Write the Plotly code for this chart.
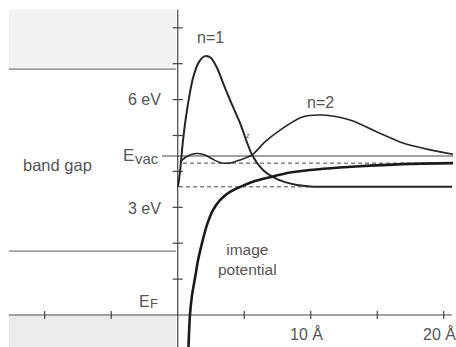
import plotly.graph_objects as go

# ---- data (x in Å, energy in eV) ----
n1_x = [0.02, 0.17, 0.40, 0.70, 1.15, 1.60, 2.05, 2.50, 2.96, 3.41, 3.93, 4.68, 5.59, 6.41, 7.17, 8.07, 8.97, 9.95, 12.20, 20.62]
n1_y = [3.57, 3.98, 4.87, 5.71, 6.60, 7.05, 7.21, 7.16, 6.88, 6.46, 5.99, 5.35, 4.46, 4.04, 3.84, 3.70, 3.62, 3.58, 3.57, 3.57]

n2_x = [0.17, 0.62, 1.08, 1.53, 2.05, 2.58, 3.18, 3.93, 4.68, 5.59, 6.56, 7.69, 9.42, 10.85, 12.95, 14.98, 16.94, 18.97, 20.70]
n2_y = [4.26, 4.40, 4.48, 4.50, 4.46, 4.35, 4.25, 4.23, 4.32, 4.46, 4.82, 5.15, 5.52, 5.57, 5.43, 5.10, 4.79, 4.60, 4.48]

pot_x = [0.81, 0.92, 1.08, 1.30, 1.53, 1.83, 2.20, 2.65, 3.18, 3.93, 4.83, 5.81, 6.94, 8.44, 9.95, 12.20, 14.46, 17.47, 20.70]
pot_y = [-0.89, 0.00, 0.56, 1.03, 1.53, 2.01, 2.51, 2.92, 3.20, 3.43, 3.59, 3.73, 3.84, 3.97, 4.04, 4.11, 4.16, 4.21, 4.23]

E_vac = 4.43
E_n1 = 3.57
E_n2 = 4.23
cb_bottom = 6.85
vb_top = 1.78
cb_top = 8.50
x_left = -12.7
x_right = 20.6
y_axis_top = 8.50
y_axis_bottom = -0.89

x_ticks = [-10, -5, 5, 10, 15, 20]
y_ticks = [1, 2, 3, 4, 5, 6, 7, 8]

# ---- figure ----
LINE = "#262626"
TXT = "#555555"
FONT = "Liberation Sans, Arial, sans-serif"

fig = go.Figure()

def seg(xs, ys, color=LINE, width=1.2, dash="solid", shape="linear"):
    fig.add_trace(go.Scatter(x=xs, y=ys, mode="lines",
                             line=dict(color=color, width=width, dash=dash,
                                       shape=shape, smoothing=0.8 if shape == "spline" else None),
                             hoverinfo="skip", showlegend=False))

# shaded bands
fig.add_shape(type="rect", x0=x_left, x1=-0.13, y0=cb_bottom, y1=cb_top,
              fillcolor="#f2f2f2", line=dict(width=0), layer="below")
fig.add_shape(type="rect", x0=x_left, x1=-0.13, y0=y_axis_bottom, y1=-0.03,
              fillcolor="#ebebeb", line=dict(width=0), layer="below")

# band edges
seg([x_left, -0.13], [cb_bottom, cb_bottom], color="#7a7a7a", width=1.4)
seg([x_left, -0.13], [vb_top, vb_top], color="#7a7a7a", width=1.2)

# axes
seg([0, 0], [y_axis_bottom, y_axis_top], color="#444444", width=1.2)
seg([x_left, x_right], [0, 0], color="#444444", width=1.2)
for t in y_ticks:
    seg([-0.38, 0.38], [t, t], color="#444444", width=1.2)
for t in x_ticks:
    seg([t, t], [-0.11, 0.11], color="#444444", width=1.2)

# levels
seg([-1.18, 20.7], [E_vac, E_vac], color="#444444", width=1.1)
seg([0.4, 20.6], [E_n2, E_n2], color="#444444", width=1.0, dash="4px,3px")
seg([0.1, 10.0], [E_n1, E_n1], color="#444444", width=1.0, dash="4px,3px")

# wavefunctions and image potential
seg(n2_x, n2_y, width=1.6, shape="spline")
seg(n1_x, n1_y, width=2.0, shape="spline")
seg(pot_x, pot_y, width=2.6, color="#1a1a1a", shape="spline")

def label(x, y, text, size=16, xanchor="center", yanchor="middle"):
    fig.add_annotation(x=x, y=y, text=text, showarrow=False,
                       xanchor=xanchor, yanchor=yanchor,
                       font=dict(family=FONT, size=size, color=TXT))

label(-1.11, 6.0, "6 eV", xanchor="right")
label(-1.11, 2.97, "3 eV", xanchor="right")
label(-4.25, 4.43, "E", size=17, xanchor="left")
label(-3.35, 4.36, "vac", size=15, xanchor="left")
label(-11.75, 4.18, "band gap", size=16.5, xanchor="left")
label(-3.05, 0.39, "E", size=16, xanchor="left")
label(-2.2, 0.33, "F", size=13, xanchor="left")
label(2.50, 7.72, "n=1")
label(10.77, 5.91, "n=2")
label(5.21, 1.56, "image<br>potential", size=15.5)
label(9.68, -0.52, "10 Å")
label(19.65, -0.52, "20 Å")
label(5.29, 4.99, "z", size=7)

fig.update_layout(
    width=456, height=347,
    margin=dict(l=0, r=0, t=0, b=0),
    paper_bgcolor="white", plot_bgcolor="white",
    xaxis=dict(range=[-13.36, 20.92], visible=False, fixedrange=True),
    yaxis=dict(range=[-0.891, 8.774], visible=False, fixedrange=True),
    showlegend=False,
)

fig.write_html("out.html", config={"displayModeBar": False},
               post_script="document.body.style.margin='0';document.body.style.overflow='hidden';")
